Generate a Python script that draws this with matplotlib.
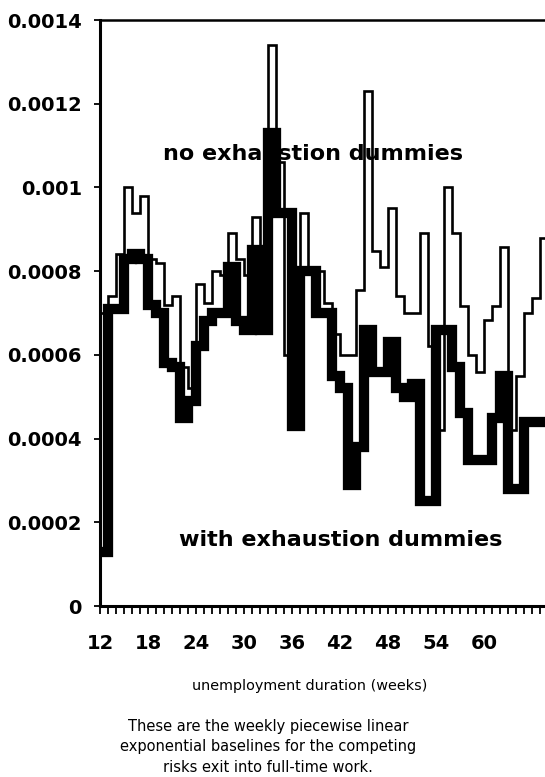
import numpy as np
import matplotlib
matplotlib.use("Agg")
import matplotlib.pyplot as plt

# ---- data (weekly step values, week 12 .. 67) ----
weeks = list(range(12, 68))

no_exhaustion = [
    0.00070, 0.00074, 0.00084, 0.00100, 0.00094, 0.00098, 0.00083, 0.00082,  # 12-19
    0.00072, 0.00074, 0.00057, 0.00052, 0.00077, 0.000725, 0.00080, 0.00079,  # 20-27
    0.00089, 0.00083, 0.00079, 0.00093, 0.00084, 0.00134, 0.00106, 0.00060,  # 28-35
    0.00074, 0.00094, 0.00080, 0.00080, 0.000725, 0.00065, 0.00060, 0.00060,  # 36-43
    0.000756, 0.00123, 0.000847, 0.00081, 0.00095, 0.00074, 0.00070, 0.00070,  # 44-51
    0.00089, 0.00062, 0.00042, 0.00100, 0.00089, 0.000716, 0.00060, 0.00056,  # 52-59
    0.000684, 0.000716, 0.000857, 0.00042, 0.00055, 0.00070, 0.000737, 0.00088,  # 60-67
]

with_exhaustion = [
    0.00013, 0.00071, 0.00071, 0.00083, 0.00084, 0.00083, 0.00072, 0.00070,  # 12-19
    0.00058, 0.00057, 0.00045, 0.00049, 0.00062, 0.00068, 0.00070, 0.00070,  # 20-27
    0.00081, 0.00068, 0.00066, 0.00085, 0.00066, 0.00113, 0.00094, 0.00094,  # 28-35
    0.00043, 0.00080, 0.00080, 0.00070, 0.00070, 0.00055, 0.00052, 0.00029,  # 36-43
    0.00038, 0.00066, 0.00056, 0.00056, 0.00063, 0.00052, 0.00050, 0.00053,  # 44-51
    0.00025, 0.00025, 0.00066, 0.00066, 0.00057, 0.00046, 0.00035, 0.00035,  # 52-59
    0.00035, 0.00045, 0.00055, 0.00028, 0.00028, 0.00044, 0.00044, 0.00044,  # 60-67
]

x_ticks = [12, 18, 24, 30, 36, 42, 48, 54, 60]
y_ticks = [0, 0.0002, 0.0004, 0.0006, 0.0008, 0.001, 0.0012, 0.0014]
y_tick_labels = ["0", "0.0002", "0.0004", "0.0006", "0.0008", "0.001", "0.0012", "0.0014"]

label_no = "no exhaustion dummies"
label_with = "with exhaustion dummies"
x_label = "unemployment duration (weeks)"
caption = ["These are the weekly piecewise linear",
           "exponential baselines for the competing",
           "risks exit into full-time work."]

# ---- figure ----
W, H = 545, 777
fig = plt.figure(figsize=(W / 100, H / 100), dpi=100)
ax = fig.add_axes([100 / W, 1 - 606 / H, 1 - 100 / W, (606 - 20) / H])

edges = np.append(np.array(weeks, dtype=float), weeks[-1] + 1)

thick = ax.stairs(with_exhaustion, edges, baseline=None, color="black",
                  linewidth=7.4, zorder=3)
thick.set_joinstyle("miter")
thick.set_capstyle("butt")
thin = ax.stairs(no_exhaustion, edges, baseline=None, color="black",
                 linewidth=1.9, zorder=4)
thin.set_joinstyle("miter")
thin.set_capstyle("butt")

ax.set_xlim(12, 12 + (W - 100) / 8.0)
ax.set_ylim(0, 0.0014)

ax.text(38.6, 0.00108, label_no, ha="center", va="center",
        fontsize=16, fontweight="bold", zorder=2)
ax.text(42.1, 0.000157, label_with, ha="center", va="center",
        fontsize=16, fontweight="bold", zorder=2)

# axes styling
for s in ["left", "bottom"]:
    ax.spines[s].set_linewidth(2.2)
ax.spines["top"].set_linewidth(1.8)
ax.spines["right"].set_visible(False)

ax.set_xticks(x_ticks)
ax.set_xticklabels([str(v) for v in x_ticks], fontsize=14, fontweight="bold")
ax.set_xticks(weeks, minor=True)
ax.tick_params(axis="x", which="both", direction="out", length=6, width=1.3,
               pad=14)
ax.set_yticks(y_ticks)
ax.set_yticklabels(y_tick_labels, fontsize=14, fontweight="bold")
ax.tick_params(axis="y", which="major", direction="out", length=4, width=1.3,
               pad=9)

narrow = ["Liberation Sans Narrow", "DejaVu Sans"]
fig.text(310 / W, 1 - 686 / H, x_label, ha="center", va="center",
         fontsize=10.4, family=narrow)
for i, line in enumerate(caption):
    fig.text(268 / W, 1 - (727 + 20 * i) / H, line, ha="center", va="center",
             fontsize=10.5, family=narrow)

fig.savefig("out.png", dpi=100)
